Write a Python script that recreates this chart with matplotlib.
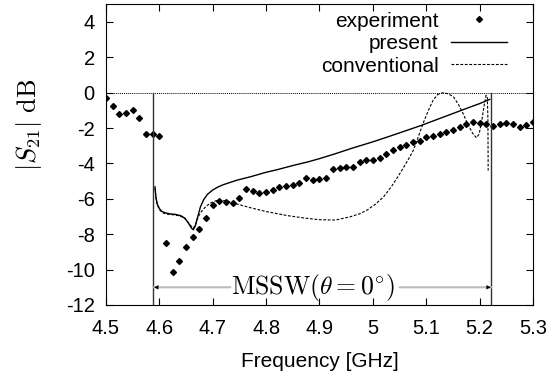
import numpy as np
import matplotlib
matplotlib.use("Agg")
import matplotlib.pyplot as plt

plt.rcParams['font.family'] = ['Liberation Sans', 'DejaVu Sans']
plt.rcParams['mathtext.fontset'] = 'cm'
plt.rcParams['axes.unicode_minus'] = False

# measured |S21| (dB), 12.5 MHz steps from 4.5 GHz
exp_freq = 4.5 + 0.0125 * np.arange(65)
exp_s21 = [-0.29, -0.75, -1.20, -1.14, -0.97, -1.42, -2.36, -2.31, -2.47,
           -8.52, -10.16, -9.50, -8.75, -8.15, -7.73, -7.09, -6.34, -6.11,
           -6.17, -6.23, -5.94, -5.47, -5.55, -5.68, -5.61, -5.51, -5.32,
           -5.26, -5.24, -5.13, -4.85, -4.93, -4.89, -4.80, -4.34, -4.25,
           -4.23, -4.23, -3.93, -3.81, -3.83, -3.72, -3.47, -3.25, -3.06,
           -2.97, -2.78, -2.76, -2.50, -2.46, -2.34, -2.21, -2.12, -1.93,
           -1.78, -1.68, -1.74, -1.80, -1.88, -1.80, -1.74, -1.80, -1.97,
           -1.84, -1.65]

# present theory
pres_freq = [4.5918, 4.5935, 4.596, 4.600, 4.605, 4.612, 4.620, 4.630, 4.640,
             4.648, 4.655, 4.660, 4.6636, 4.667, 4.672, 4.677, 4.683, 4.690,
             4.700, 4.710, 4.720, 4.745, 4.770, 4.800, 4.820, 4.850, 4.880,
             4.900, 4.930, 4.960, 5.000, 5.030, 5.060, 5.090, 5.120, 5.150,
             5.180, 5.200, 5.219]
pres_s21 = [-5.32, -5.90, -6.30, -6.55, -6.72, -6.80, -6.85, -6.88, -6.95,
            -7.10, -7.40, -7.65, -7.75, -7.55, -7.00, -6.45, -6.05, -5.75,
            -5.50, -5.33, -5.20, -4.95, -4.76, -4.50, -4.36, -4.12, -3.90,
            -3.73, -3.45, -3.15, -2.78, -2.48, -2.17, -1.86, -1.52, -1.18,
            -0.84, -0.62, -0.38]

# conventional theory
conv_freq = [4.5918, 4.594, 4.597, 4.601, 4.607, 4.615, 4.625, 4.635, 4.645,
             4.652, 4.658, 4.6636, 4.668, 4.673, 4.678, 4.685, 4.695, 4.705,
             4.715, 4.730, 4.740, 4.770, 4.800, 4.840, 4.875, 4.900, 4.930,
             4.957, 4.975, 4.990, 5.005, 5.020, 5.035, 5.050, 5.065, 5.076,
             5.085, 5.094, 5.104, 5.113, 5.122, 5.132, 5.142, 5.151, 5.160,
             5.169, 5.178, 5.187, 5.194, 5.199, 5.204, 5.208, 5.212, 5.2145,
             5.2155, 5.216]
conv_s21 = [-5.40, -6.00, -6.40, -6.65, -6.80, -6.87, -6.90, -6.95, -7.05,
            -7.25, -7.50, -7.65, -7.45, -7.00, -6.75, -6.50, -6.25, -6.12,
            -6.07, -6.15, -6.25, -6.50, -6.72, -6.95, -7.10, -7.18, -7.20,
            -7.02, -6.85, -6.62, -6.30, -5.89, -5.30, -4.60, -3.85, -3.25,
            -2.50, -1.74, -1.00, -0.42, -0.10, 0.00, -0.08, -0.24, -0.65,
            -1.18, -1.80, -2.30, -2.55, -2.35, -1.60, -0.80, -0.15, -0.30,
            -1.50, -4.40]

band_lo = 4.589
band_hi = 5.222
band_label = r'$\mathrm{MSSW}(\theta = 0^{\circ})$'

fig = plt.figure(figsize=(5.52, 3.77), dpi=100)
ax = fig.add_axes([0.192, 0.191, 0.7736, 0.798])

ax.axhline(0, color='black', lw=0.7, linestyle=(0, (1, 1)))
ax.plot(exp_freq, exp_s21, linestyle='none', marker='D', ms=3.0,
        color='black', label='experiment')
ax.plot(pres_freq, pres_s21, color='black', lw=1.0, label='present')
ax.plot(conv_freq, conv_s21, color='black', lw=0.8,
        linestyle=(0, (2.5, 1.5)), label='conventional')

# band edges
for f in (band_lo, band_hi):
    ax.plot([f, f], [0, -12], color='#333333', lw=1.0)

# band arrows
arrow_y = -11
ax.text(4.888, arrow_y, band_label, ha='center', va='center', fontsize=18.5)
ax.annotate('', xy=(band_lo, arrow_y), xytext=(4.733, arrow_y),
            arrowprops=dict(arrowstyle='-', color='#bbbbbb', lw=1.5,
                            shrinkA=0, shrinkB=0))
ax.annotate('', xy=(5.05, arrow_y), xytext=(band_hi, arrow_y),
            arrowprops=dict(arrowstyle='-', color='#bbbbbb', lw=1.5,
                            shrinkA=0, shrinkB=0))
ax.annotate('', xy=(band_lo + 0.001, arrow_y), xytext=(band_lo + 0.02, arrow_y),
            arrowprops=dict(arrowstyle='-|>', color='black', lw=0,
                            mutation_scale=8, shrinkA=0, shrinkB=0))
ax.annotate('', xy=(band_hi - 0.001, arrow_y), xytext=(band_hi - 0.02, arrow_y),
            arrowprops=dict(arrowstyle='-|>', color='black', lw=0,
                            mutation_scale=8, shrinkA=0, shrinkB=0))

ax.set_xlim(4.5, 5.3)
ax.set_ylim(-12, 5)
ax.set_xticks(np.arange(4.5, 5.31, 0.1))
ax.set_xticklabels(['4.5', '4.6', '4.7', '4.8', '4.9', '5', '5.1', '5.2', '5.3'])
ax.set_yticks(np.arange(-12, 5, 2))
ax.tick_params(direction='in', top=True, right=True, length=5, width=0.8,
               labelsize=14.5)
ax.tick_params(axis='x', pad=10)
ax.tick_params(axis='y', pad=8)
ax.set_xlabel('Frequency [GHz]', fontsize=15, labelpad=10)
ax.set_ylabel(r'$|S_{21}|\ \mathrm{dB}$', fontsize=19)
ax.yaxis.set_label_coords(-0.145, 0.6)

ax.legend(loc='upper right', bbox_to_anchor=(0.94, 0.975), frameon=False,
          markerfirst=False, numpoints=1, fontsize=15, handlelength=2.7,
          handletextpad=0.6, labelspacing=0.17, borderpad=0, borderaxespad=0)

fig.savefig('out.png', dpi=100)
